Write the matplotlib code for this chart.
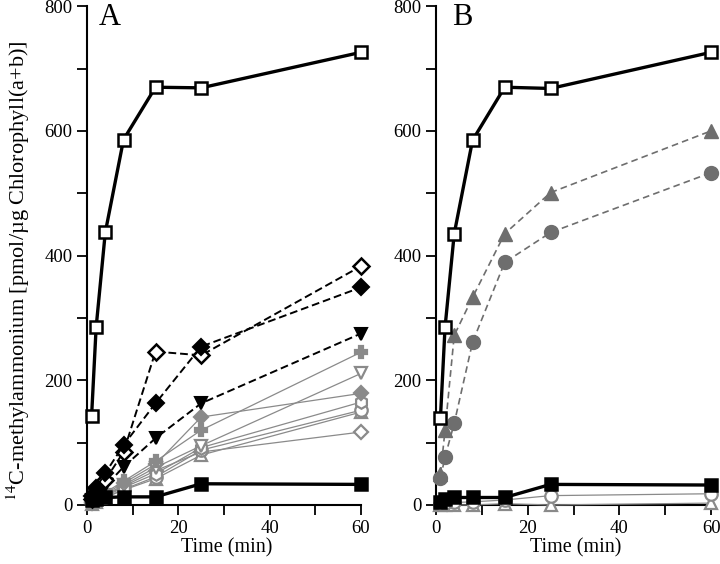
import numpy as np
import matplotlib.pyplot as plt
from matplotlib.ticker import FixedLocator

plt.rcParams['font.family'] = ['Liberation Serif', 'DejaVu Serif']
plt.rcParams['mathtext.fontset'] = 'stix'

# sampling times (min)
t = [1, 2, 4, 8, 15, 25, 60]

# ---- panel A ----
a_open_sq = [142, 285, 437, 586, 670, 669, 726]
a_filled_sq = [8, 10, 12, 13, 13, 34, 33]
a_filled_dia = [15, 28, 51, 96, 163, 254, 349]
a_open_dia = [10, 20, 40, 85, 246, 240, 383]
a_filled_tri = [8, 15, 30, 61, 107, 163, 275]
a_gray_plus = [5, 10, 20, 38, 70, 120, 245]
a_gray_vtri = [4, 8, 16, 32, 60, 95, 211]
a_gray_dia = [4, 8, 18, 35, 65, 141, 179]
a_gray_hex = [3, 6, 14, 28, 50, 92, 165]
a_gray_circ = [3, 6, 12, 25, 45, 88, 152]
a_gray_tri = [2, 5, 12, 24, 42, 80, 149]
a_gray_odia = [3, 7, 15, 30, 55, 85, 117]

# ---- panel B ----
b_open_sq = [140, 285, 435, 585, 670, 668, 726]
b_tri = [50, 120, 272, 333, 435, 501, 600]
b_circ = [43, 77, 131, 261, 389, 437, 533]
b_filled_sq = [5, 10, 12, 12, 12, 33, 32]
b_open_circ = [2, 3, 4, 5, 8, 15, 18]
b_open_tri = [0, 0, 0, 0, 2, 0, 3]

fig = plt.figure(figsize=(7.2, 5.64), dpi=100)
axA = fig.add_axes([0.1145, 0.0936, 0.3996, 0.901])
axB = fig.add_axes([0.599, 0.0936, 0.4008, 0.901])

gray_col = '#8a8a8a'
black_solid = dict(color='black', lw=2.4, ms=9, mew=1.8, mec='black', zorder=5)
black_dash = dict(color='black', lw=1.4, ls=(0, (4, 2)), ms=8, mec='black', zorder=4)
gray_thin = dict(color=gray_col, lw=0.9, mew=1.6, mec=gray_col, zorder=3)

# panel A
axA.plot(t, a_gray_odia, marker='D', mfc='white', ms=7.5, **gray_thin)
axA.plot(t, a_gray_tri, marker='^', mfc='white', ms=9, **gray_thin)
axA.plot(t, a_gray_circ, marker='o', mfc='white', ms=9, **gray_thin)
axA.plot(t, a_gray_hex, marker='h', mfc='white', ms=9, **gray_thin)
axA.plot(t, a_gray_dia, marker='D', mfc=gray_col, ms=7.5, **gray_thin)
axA.plot(t, a_gray_vtri, marker='v', mfc='white', ms=9, **gray_thin)
axA.plot(t, a_gray_plus, marker='P', mfc=gray_col, ms=9, **gray_thin)
axA.plot(t, a_filled_tri, marker='v', mfc='black', mew=1.5, **{**black_dash, 'ms': 9})
axA.plot(t, a_open_dia, marker='D', mfc='white', mew=1.8, **black_dash)
axA.plot(t, a_filled_dia, marker='D', mfc='black', mew=1.5, **black_dash)
axA.plot(t, a_filled_sq, marker='s', mfc='black', **black_solid)
axA.plot(t, a_open_sq, marker='s', mfc='white', **black_solid)

# panel B
dark_gray = '#6e6e6e'
b_dash = dict(color=dark_gray, lw=1.2, ls=(0, (4, 2.5)), ms=10, mew=1, mec=dark_gray, zorder=4)
axB.plot(t, b_open_tri, marker='^', mfc='white', ms=9, **gray_thin)
axB.plot(t, b_open_circ, marker='o', mfc='white', ms=9, **gray_thin)
axB.plot(t, b_circ, marker='o', mfc=dark_gray, **b_dash)
axB.plot(t, b_tri, marker='^', mfc=dark_gray, **b_dash)
axB.plot(t, b_filled_sq, marker='s', mfc='black', **black_solid)
axB.plot(t, b_open_sq, marker='s', mfc='white', **black_solid)

for ax, lab, lx, xmax in [(axA, 'A', 0.058, 62), (axB, 'B', 0.073, 61.9)]:
    ax.set_xlim(-1, xmax)
    ax.set_ylim(-10, 805)
    for s in ['top', 'right']:
        ax.spines[s].set_visible(False)
    ax.spines['left'].set_position(('data', 0))
    ax.spines['bottom'].set_position(('data', 0))
    ax.spines['left'].set_bounds(0, 800)
    ax.spines['bottom'].set_bounds(0, 60)
    ax.spines['left'].set_linewidth(1.5)
    ax.spines['bottom'].set_linewidth(1.5)
    ax.yaxis.set_major_locator(FixedLocator([0, 200, 400, 600, 800]))
    ax.yaxis.set_minor_locator(FixedLocator([100, 300, 500, 700]))
    ax.xaxis.set_major_locator(FixedLocator([0, 20, 40, 60]))
    ax.xaxis.set_minor_locator(FixedLocator([10, 30, 50]))
    ax.tick_params(which='both', direction='out', length=7, width=1.3, labelsize=13.5)
    ax.set_xlabel('Time (min)', fontsize=14.5, labelpad=1)
    ax.text(lx, 1.0, lab, transform=ax.transAxes, fontsize=22, va='top', ha='left')
    for m in ax.lines:
        m.set_clip_on(False)

fig.text(0.025, 0.52, r'$^{14}$C-methylammonium [pmol/µg Chlorophyll(a+b)]',
         rotation=90, fontsize=16, va='center', ha='center')

fig.savefig('out.png', dpi=100)
